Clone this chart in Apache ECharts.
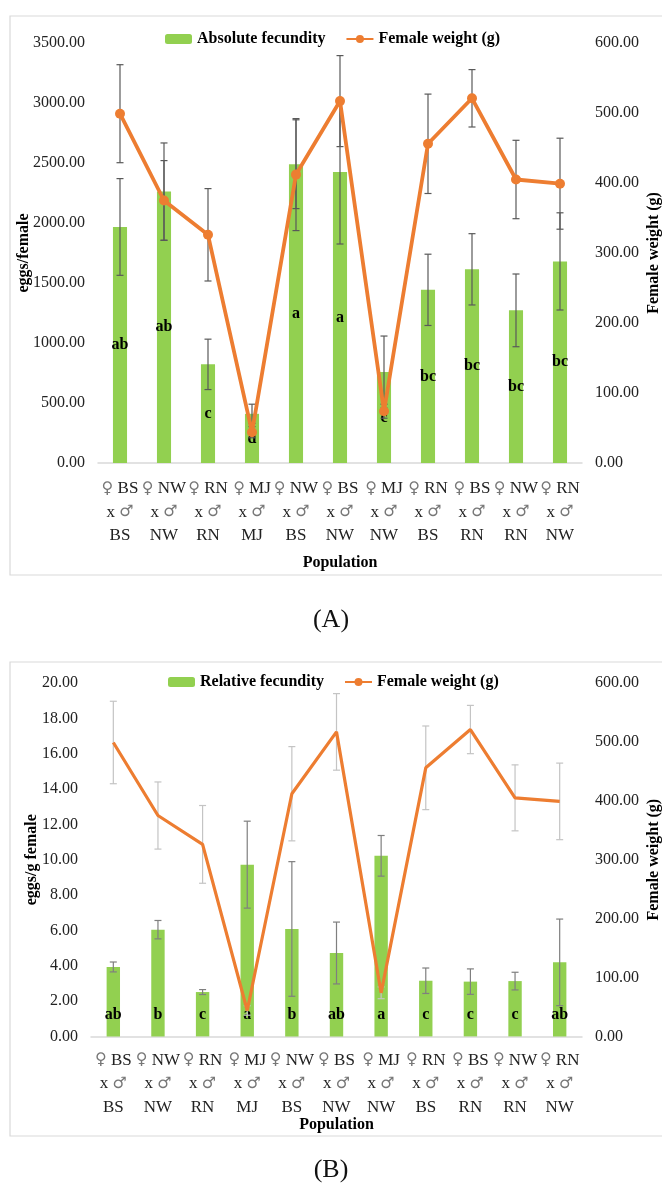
<!DOCTYPE html>
<html>
<head>
<meta charset="utf-8">
<script src="https://cdn.jsdelivr.net/npm/echarts@6/dist/echarts.min.js"></script>
<style>
  body { margin: 0; background: #fff; }
  #chartA { position: absolute; left: 0; top: 0; width: 662px; height: 650px; }
  #chartB { position: absolute; left: 0; top: 650px; width: 662px; height: 538px; }
</style>
</head>
<body>
<div id="chartA"></div>
<div id="chartB"></div>
<script>
// crosses: female x male
const crossFemale = ['BS', 'NW', 'RN', 'MJ', 'NW', 'BS', 'MJ', 'RN', 'BS', 'NW', 'RN'];
const crossMale   = ['BS', 'NW', 'RN', 'MJ', 'BS', 'NW', 'NW', 'BS', 'RN', 'RN', 'NW'];

// (A) absolute fecundity (eggs/female)
const absFec     = [1967, 2262, 822, 410, 2490, 2425, 758, 1443, 1614, 1272, 1680];
const absFecErr  = [403, 405, 210, 80, 370, 600, 300, 297, 297, 303, 405];
const absLetters = ['ab', 'ab', 'c', 'd', 'a', 'a', 'c', 'bc', 'bc', 'bc', 'bc'];

// (B) relative fecundity (eggs/g female)
const relFec     = [3.93, 6.04, 2.51, 9.72, 6.08, 4.72, 10.22, 3.15, 3.10, 3.13, 4.19];
const relFecErr  = [0.28, 0.52, 0.14, 2.46, 3.81, 1.75, 1.15, 0.72, 0.72, 0.50, 2.45];
const relLetters = ['ab', 'b', 'c', 'a', 'b', 'ab', 'a', 'c', 'c', 'c', 'ab'];

// female weight (g), same in both panels
const weight    = [499, 375, 326, 44, 412, 517, 74, 456, 521, 405, 399];
const weightErr = [70, 57, 66, 8, 80, 65, 10, 71, 41, 56, 65];

const categories = crossFemale.map((f, i) => f + '|' + crossMale[i]);

const SERIF = "'Liberation Serif', 'Times New Roman', serif";
const GREEN = '#92D050';
const ORANGE = '#ED7D31';

function errorSeries(yIdx, vals, errs, color) {
  return {
    type: 'custom',
    yAxisIndex: yIdx,
    silent: true,
    z: 3,
    data: vals.map((v, i) => [i, v - errs[i], v + errs[i]]),
    encode: { x: 0, y: [1, 2] },
    renderItem: function (params, api) {
      const lo = api.coord([api.value(0), api.value(1)]);
      const hi = api.coord([api.value(0), api.value(2)]);
      const w = 3.5;
      const style = { stroke: color, lineWidth: 1.2 };
      return {
        type: 'group',
        children: [
          { type: 'line', shape: { x1: hi[0], y1: hi[1], x2: lo[0], y2: lo[1] }, style: style },
          { type: 'line', shape: { x1: hi[0] - w, y1: hi[1], x2: hi[0] + w, y2: hi[1] }, style: style },
          { type: 'line', shape: { x1: lo[0] - w, y1: lo[1], x2: lo[0] + w, y2: lo[1] }, style: style }
        ]
      };
    }
  };
}

function buildOption(c) {
  return {
    animation: false,
    textStyle: { fontFamily: SERIF },
    graphic: [
      { type: 'rect', shape: { x: 10, y: c.boxTop, width: 680, height: c.boxHeight },
        style: { fill: 'none', stroke: '#d9d9d9', lineWidth: 1.2 } },
      { type: 'text', x: 331, y: c.captionY,
        style: { text: c.caption, fontFamily: SERIF, fontSize: 26, fill: '#111',
                 align: 'center', verticalAlign: 'middle' } }
    ],
    legend: {
      left: c.legendLeft, top: c.legendTop,
      itemWidth: 27, itemHeight: 10, itemGap: 20,
      data: [c.barName, 'Female weight (g)'],
      textStyle: { fontFamily: SERIF, fontWeight: 'bold', fontSize: 16, color: '#000' }
    },
    grid: { left: c.gridLeft, right: 80, top: c.gridTop, height: c.gridHeight,
            outerBoundsMode: 'none' },
    xAxis: {
      type: 'category',
      data: categories,
      name: 'Population',
      nameLocation: 'middle',
      nameGap: c.xNameGap,
      nameMoveOverlap: false,
      nameTextStyle: { fontFamily: SERIF, fontWeight: 'bold', fontSize: 16, color: '#000' },
      axisTick: { show: false },
      axisLine: { lineStyle: { color: '#d9d9d9', width: 1.5 } },
      axisLabel: {
        interval: 0,
        margin: c.xLabelMargin,
        fontFamily: SERIF, fontSize: 17, color: '#222', lineHeight: 23.5,
        formatter: function (v) {
          const p = v.split('|');
          return '{s|♀} ' + p[0] + '\nx {s|♂}\n' + p[1];
        },
        rich: { s: { fontFamily: 'DejaVu Sans', fontSize: 16, color: '#777', lineHeight: 23.5 } }
      }
    },
    yAxis: [
      {
        type: 'value', min: 0, max: c.leftMax, interval: c.leftInterval,
        name: c.leftName, nameLocation: 'middle', nameGap: c.leftNameGap, nameRotate: 90,
        nameMoveOverlap: false,
        nameTextStyle: { fontFamily: SERIF, fontWeight: 'bold', fontSize: 16, color: '#000' },
        splitLine: { show: false }, axisLine: { show: false }, axisTick: { show: false },
        axisLabel: { margin: 13, fontFamily: SERIF, fontSize: 16, color: '#222',
                     formatter: v => v.toFixed(2) }
      },
      {
        type: 'value', min: 0, max: 600, interval: 100, position: 'right',
        name: 'Female weight (g)', nameLocation: 'middle', nameGap: 64, nameRotate: 90,
        nameMoveOverlap: false,
        nameTextStyle: { fontFamily: SERIF, fontWeight: 'bold', fontSize: 16, color: '#000' },
        splitLine: { show: false }, axisLine: { show: false }, axisTick: { show: false },
        axisLabel: { margin: 13, fontFamily: SERIF, fontSize: 16, color: '#222',
                     formatter: v => v.toFixed(2) }
      }
    ],
    series: [
      {
        name: c.barName, type: 'bar', yAxisIndex: 0, barWidth: c.barWidth, z: 2,
        itemStyle: { color: GREEN },
        data: c.barData,
        label: {
          show: true, position: c.letterPos, distance: c.letterDist,
          fontFamily: SERIF, fontWeight: 'bold', fontSize: 16, color: '#000',
          formatter: p => c.letters[p.dataIndex]
        }
      },
      errorSeries(0, c.barData, c.barErr, c.barErrColor),
      errorSeries(1, weight, weightErr, c.weightErrColor),
      {
        name: 'Female weight (g)', type: 'line', yAxisIndex: 1, z: 4,
        data: weight,
        symbol: c.lineSymbol, symbolSize: 10, showSymbol: c.lineSymbol !== 'none',
        itemStyle: { color: ORANGE },
        lineStyle: { color: ORANGE, width: c.lineWidth }
      }
    ]
  };
}

const chartA = echarts.init(document.getElementById('chartA'));
chartA.setOption(buildOption({
  boxTop: 16, boxHeight: 559, caption: '(A)', captionY: 620,
  legendLeft: 160, legendTop: 26,
  barName: 'Absolute fecundity',
  gridLeft: 98, gridTop: 43, gridHeight: 420,
  xNameGap: 92, xLabelMargin: 14,
  leftMax: 3500, leftInterval: 500, leftName: 'eggs/female', leftNameGap: 66,
  barWidth: '32%', barData: absFec, barErr: absFecErr, letters: absLetters,
  letterPos: 'inside', letterDist: 5,
  barErrColor: '#595959', weightErrColor: '#595959',
  lineSymbol: 'circle', lineWidth: 3.8
}));

const chartB = echarts.init(document.getElementById('chartB'));
chartB.setOption(buildOption({
  boxTop: 12, boxHeight: 474, caption: '(B)', captionY: 520,
  legendLeft: 163, legendTop: 19,
  barName: 'Relative fecundity',
  gridLeft: 91, gridTop: 33, gridHeight: 353.4,
  xNameGap: 80, xLabelMargin: 12,
  leftMax: 20, leftInterval: 2, leftName: 'eggs/g female', leftNameGap: 51,
  barWidth: '30%', barData: relFec, barErr: relFecErr, letters: relLetters,
  letterPos: 'insideBottom', letterDist: 14,
  barErrColor: '#7f7f7f', weightErrColor: '#c4c4c4',
  lineSymbol: 'none', lineWidth: 3.2
}));
</script>
</body>
</html>
